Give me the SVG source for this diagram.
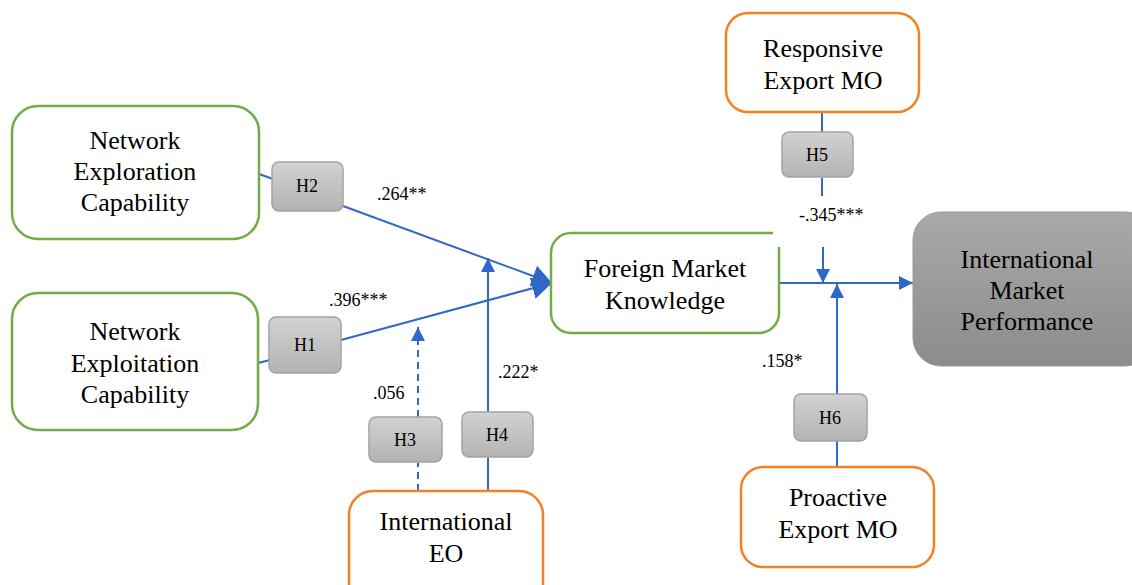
<svg xmlns="http://www.w3.org/2000/svg" width="1132" height="585" viewBox="0 0 1132 585" font-family="Liberation Serif, DejaVu Serif, serif">
<defs>
<linearGradient id="hg" x1="0" y1="0" x2="0" y2="1"><stop offset="0" stop-color="#d2d2d2"/><stop offset="1" stop-color="#b3b3b3"/></linearGradient>
<linearGradient id="ig" x1="0" y1="0" x2="0" y2="1"><stop offset="0" stop-color="#a9a9a9"/><stop offset="1" stop-color="#8c8c8c"/></linearGradient>
<marker id="a" markerUnits="userSpaceOnUse" markerWidth="14" markerHeight="14" refX="14" refY="7" orient="auto"><path d="M0,0 L14,7 L0,14 z" fill="#3067c8"/></marker>
<marker id="ab" markerUnits="userSpaceOnUse" markerWidth="20" markerHeight="22" refX="20" refY="11" orient="auto"><path d="M0,0 L20,11 L0,22 z" fill="#3067c8"/></marker>
<style>
text{fill:#000}
.n{font-size:26px;text-anchor:middle}
.h{font-size:18px;text-anchor:middle}
.c{font-size:18px}
.g{fill:#fff;stroke:#70ad47;stroke-width:2.5}
.o{fill:#fff;stroke:#f58025;stroke-width:2.5}
.hb{fill:url(#hg);stroke:#a3a3a3;stroke-width:1.5}
.l{stroke:#3067c8;stroke-width:2;fill:none}
</style>
</defs>
<g id="connectors">
<line class="l" x1="259" y1="174" x2="273" y2="179"/>
<line class="l" x1="258" y1="363" x2="270" y2="360"/>
<line class="l" x1="343" y1="206" x2="552" y2="283" marker-end="url(#ab)"/>
<line class="l" x1="341" y1="340" x2="552" y2="283" marker-end="url(#ab)"/>
<line class="l" x1="418" y1="491" x2="418" y2="463" stroke-dasharray="7,5"/>
<line class="l" x1="418" y1="417" x2="418" y2="327" stroke-dasharray="7,5" marker-end="url(#a)"/>
<line class="l" x1="488" y1="491" x2="488" y2="458"/>
<line class="l" x1="488" y1="412" x2="488" y2="258" marker-end="url(#a)"/>
<line class="l" x1="779" y1="283" x2="913" y2="283" marker-end="url(#a)"/>
<line class="l" x1="822" y1="112" x2="822" y2="132"/>
<line class="l" x1="822" y1="178" x2="822" y2="196"/>
<line class="l" x1="823" y1="247" x2="823" y2="283" marker-end="url(#a)"/>
<line class="l" x1="837" y1="467" x2="837" y2="441"/>
<line class="l" x1="837" y1="394" x2="837" y2="284" marker-end="url(#a)"/>
</g>
<g id="n-explore"><rect class="g" x="12" y="106" width="247" height="133" rx="26"/>
<text class="n" x="135" y="149" font-family="Liberation Serif, DejaVu Serif, serif">Network</text><text class="n" x="135" y="180" font-family="Liberation Serif, DejaVu Serif, serif">Exploration</text><text class="n" x="135" y="211" font-family="Liberation Serif, DejaVu Serif, serif">Capability</text></g>
<g id="n-exploit"><rect class="g" x="12" y="293" width="246" height="137" rx="26"/>
<text class="n" x="135" y="340">Network</text><text class="n" x="135" y="372">Exploitation</text><text class="n" x="135" y="403">Capability</text></g>
<g id="n-fmk"><path class="g" d="M773,233 H571 A20,20 0 0 0 551,253 V313 A20,20 0 0 0 571,333 H759 A20,20 0 0 0 779,313 V247"/>
<text class="n" x="665" y="277">Foreign Market</text><text class="n" x="665" y="309">Knowledge</text></g>
<g id="n-imp"><rect x="913" y="212" width="240" height="154" rx="28" fill="url(#ig)" stroke="#999" stroke-width="1"/>
<text class="n" x="1027" y="268">International</text><text class="n" x="1027" y="299">Market</text><text class="n" x="1027" y="330">Performance</text></g>
<g id="n-resp"><rect class="o" x="726" y="13" width="193" height="99" rx="22"/>
<text class="n" x="823" y="57">Responsive</text><text class="n" x="823" y="89">Export MO</text></g>
<g id="n-pro"><rect class="o" x="741" y="467" width="193" height="100" rx="22"/>
<text class="n" x="838" y="506">Proactive</text><text class="n" x="838" y="538">Export MO</text></g>
<g id="n-ieo"><rect class="o" x="349" y="491" width="194" height="120" rx="24"/>
<text class="n" x="446" y="530">International</text><text class="n" x="446" y="562">EO</text></g>
<g id="h2"><rect class="hb" x="272" y="162" width="71" height="49" rx="7"/><text class="h" x="307" y="192">H2</text></g>
<g id="h1"><rect class="hb" x="269" y="317" width="72" height="56" rx="7"/><text class="h" x="305" y="351">H1</text></g>
<g id="h3"><rect class="hb" x="369" y="417" width="73" height="45" rx="7"/><text class="h" x="405" y="446">H3</text></g>
<g id="h4"><rect class="hb" x="462" y="412" width="71" height="45" rx="7"/><text class="h" x="497" y="441">H4</text></g>
<g id="h5"><rect class="hb" x="782" y="132" width="71" height="45" rx="7"/><text class="h" x="817" y="161">H5</text></g>
<g id="h6"><rect class="hb" x="794" y="394" width="73" height="47" rx="7"/><text class="h" x="830" y="424">H6</text></g>
<g id="labels">
<text class="c" x="377" y="200">.264**</text>
<text class="c" x="329" y="306">.396***</text>
<text class="c" x="498" y="378">.222*</text>
<text class="c" x="373" y="399">.056</text>
<text class="c" x="799" y="221">-.345***</text>
<text class="c" x="762" y="367">.158*</text>
</g>
</svg>
